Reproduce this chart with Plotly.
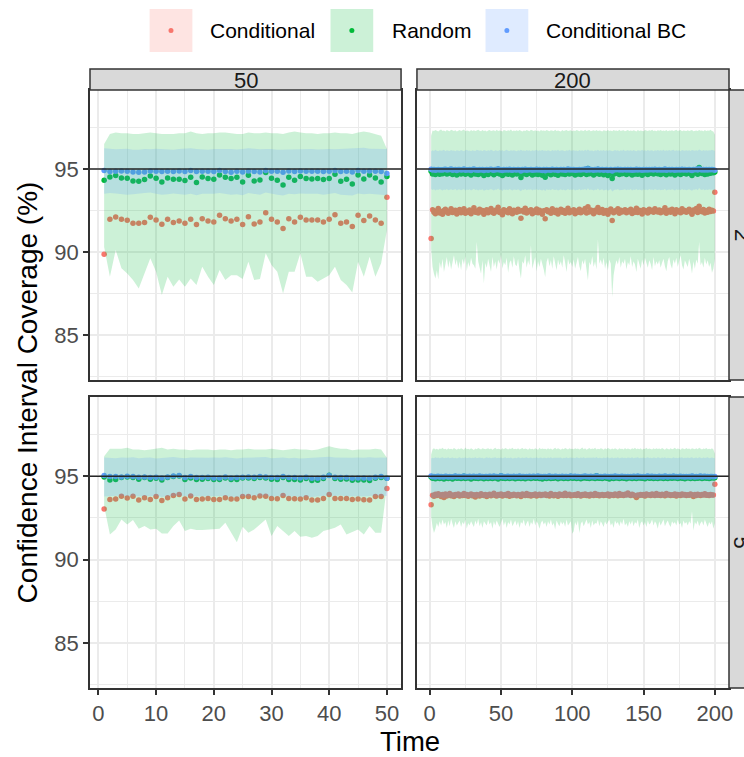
import plotly.graph_objects as go

FONT = "Liberation Sans, Arial, sans-serif"
TARGET = 95

time_50 = list(range(1, 51))
time_200 = list(range(1, 201))

col_labels = ["50", "200"]
row_labels = ["2", "5"]
series_names = ["Conditional", "Random", "Conditional BC"]

# ---------------- panel N=2, T=50 ----------------
cond_2_50 = [89.86, 91.97, 92.11, 91.97, 91.91, 91.73, 91.73, 91.77, 92.09, 91.93, 91.67, 91.97, 91.77, 91.87, 91.73, 91.97, 91.65, 92.01, 91.87, 91.81,
             92.21, 92.01, 91.87, 91.97, 91.65, 92.13, 91.69, 91.81, 92.37, 91.97, 91.81, 91.41, 92.01, 91.81, 92.09, 91.93, 91.93, 91.93, 91.81, 91.97,
             92.25, 91.73, 91.81, 91.53, 92.21, 91.89, 92.17, 91.93, 91.73, 93.29]
rand_2_50 = [94.32, 94.52, 94.60, 94.46, 94.44, 94.28, 94.26, 94.36, 94.58, 94.44, 94.22, 94.46, 94.38, 94.38, 94.30, 94.50, 94.18, 94.52, 94.42, 94.38,
             94.64, 94.50, 94.42, 94.50, 94.22, 94.62, 94.28, 94.34, 94.78, 94.44, 94.32, 94.04, 94.50, 94.32, 94.54, 94.42, 94.40, 94.42, 94.36, 94.42,
             94.68, 94.26, 94.38, 94.10, 94.64, 94.40, 94.64, 94.46, 94.22, 94.54]
bc_2_50 = [94.90, 94.84, 94.86, 94.88, 94.86, 94.82, 94.80, 94.82, 94.88, 94.86, 94.84, 94.86, 94.84, 94.88, 94.84, 94.90, 94.84, 94.86, 94.86, 94.84,
           94.90, 94.84, 94.80, 94.86, 94.82, 94.88, 94.84, 94.82, 94.90, 94.86, 94.86, 94.80, 94.88, 94.84, 94.88, 94.86, 94.86, 94.86, 94.84, 94.86,
           94.90, 94.84, 94.86, 94.82, 94.90, 94.86, 94.88, 94.86, 94.84, 94.72]
rand_hi_2_50 = [96.5, 97.1, 97.2, 97.15, 97.15, 97.1, 97.1, 97.15, 97.2, 97.15, 97.1, 97.1, 97.1, 97.15, 97.15, 97.25, 97.15, 97.1, 97.15, 97.15,
                97.2, 97.2, 97.15, 97.1, 97.1, 97.2, 97.15, 97.15, 97.2, 97.15, 97.15, 97.1, 97.2, 97.25, 97.2, 97.15, 97.15, 97.1, 97.15, 97.15,
                97.2, 97.15, 97.15, 97.1, 97.2, 97.25, 97.2, 97.1, 97.0, 96.2]
rand_lo_2_50 = [90.3, 88.51, 90.12, 89.02, 88.71, 88.31, 87.81, 88.71, 89.62, 88.82, 87.41, 88.51, 87.91, 88.35, 87.91, 88.41, 88.01, 89.12, 88.51, 88.01,
                88.92, 88.31, 88.61, 88.61, 88.37, 89.42, 88.31, 88.37, 89.92, 89.22, 88.82, 87.51, 88.82, 88.82, 89.92, 88.51, 88.51, 88.21, 88.41, 88.61,
                89.12, 88.31, 88.01, 87.57, 89.42, 88.51, 89.72, 88.51, 89.32, 91.33]
bc_hi_2_50 = [96.25, 96.2, 96.18, 96.2, 96.22, 96.16, 96.15, 96.2, 96.18, 96.22, 96.2, 96.17, 96.15, 96.2, 96.22, 96.25, 96.2, 96.18, 96.15, 96.2,
              96.22, 96.2, 96.2, 96.17, 96.2, 96.24, 96.22, 96.18, 96.2, 96.2, 96.15, 96.16, 96.2, 96.18, 96.2, 96.22, 96.2, 96.17, 96.2, 96.2,
              96.18, 96.2, 96.22, 96.2, 96.25, 96.28, 96.22, 96.2, 96.2, 96.2]
bc_lo_2_50 = [93.5, 93.55, 93.52, 93.5, 93.45, 93.48, 93.5, 93.55, 93.58, 93.5, 93.45, 93.48, 93.52, 93.5, 93.45, 93.5, 93.42, 93.5, 93.52, 93.5,
              93.55, 93.5, 93.45, 93.48, 93.42, 93.55, 93.48, 93.45, 93.58, 93.5, 93.45, 93.4, 93.5, 93.48, 93.52, 93.5, 93.48, 93.5, 93.45, 93.5,
              93.55, 93.45, 93.42, 93.4, 93.52, 93.48, 93.5, 93.5, 93.45, 93.42]

# ---------------- panel N=5, T=50 ----------------
cond_5_50 = [93.03, 93.61, 93.63, 93.80, 93.69, 93.80, 93.57, 93.71, 93.61, 93.78, 93.55, 93.71, 93.84, 93.90, 93.63, 93.82, 93.61, 93.63, 93.67, 93.61,
             93.61, 93.71, 93.63, 93.63, 93.78, 93.78, 93.71, 93.82, 93.80, 93.67, 93.65, 93.84, 93.67, 93.65, 93.63, 93.71, 93.57, 93.57, 93.67, 93.90,
             93.67, 93.67, 93.67, 93.61, 93.63, 93.59, 93.57, 93.78, 93.78, 94.26]
rand_5_50 = [94.96, 94.78, 94.80, 94.92, 94.96, 94.92, 94.82, 94.92, 94.82, 94.88, 94.78, 94.92, 94.98, 95.02, 94.80, 94.90, 94.80, 94.82, 94.86, 94.80,
             94.80, 94.90, 94.80, 94.80, 94.90, 94.90, 94.86, 94.92, 94.90, 94.82, 94.80, 94.92, 94.80, 94.80, 94.78, 94.86, 94.74, 94.76, 94.86, 95.06,
             94.86, 94.82, 94.84, 94.76, 94.78, 94.78, 94.74, 94.88, 94.92, 94.88]
bc_5_50 = [95.04, 94.98, 94.98, 94.96, 95.00, 94.98, 94.94, 94.96, 94.92, 94.94, 94.90, 94.96, 95.02, 95.04, 94.92, 94.98, 94.92, 94.92, 94.94, 94.90,
           94.90, 94.96, 94.90, 94.92, 94.94, 94.96, 94.94, 94.98, 94.96, 94.92, 94.92, 94.98, 94.92, 94.92, 94.90, 94.94, 94.88, 94.88, 94.94, 95.04,
           94.94, 94.92, 94.92, 94.88, 94.90, 94.90, 94.88, 94.94, 94.98, 94.88]
rand_hi_5_50 = [96.2, 96.65, 96.65, 96.65, 96.7, 96.6, 96.6, 96.55, 96.6, 96.65, 96.7, 96.6, 96.65, 96.6, 96.6, 96.55, 96.6, 96.6, 96.6, 96.55,
                96.6, 96.6, 96.55, 96.6, 96.6, 96.65, 96.6, 96.6, 96.6, 96.65, 96.6, 96.55, 96.6, 96.65, 96.6, 96.6, 96.55, 96.6, 96.7, 96.8,
                96.7, 96.65, 96.65, 96.55, 96.6, 96.6, 96.6, 96.65, 96.6, 96.1]
rand_lo_5_50 = [93.2, 91.51, 91.81, 92.41, 92.11, 92.37, 91.85, 92.01, 91.81, 91.85, 91.57, 91.57, 92.01, 92.35, 91.71, 91.85, 91.77, 91.77, 91.81, 91.81,
                91.85, 92.21, 91.61, 91.04, 91.97, 91.61, 91.81, 92.11, 92.41, 91.41, 92.01, 91.71, 91.41, 91.71, 91.37, 91.41, 91.31, 91.41, 91.71, 91.81,
                91.91, 92.11, 91.51, 91.65, 91.81, 91.51, 92.01, 91.61, 91.61, 94.4]
bc_hi_5_50 = [96.12, 96.1, 96.08, 96.12, 96.1, 96.14, 96.08, 96.1, 96.12, 96.06, 96.1, 96.12, 96.15, 96.1, 96.08, 96.12, 96.1, 96.08, 96.1, 96.12,
              96.1, 96.14, 96.1, 96.06, 96.1, 96.12, 96.1, 96.12, 96.15, 96.08, 96.1, 96.12, 96.08, 96.1, 96.06, 96.08, 96.1, 96.08, 96.12, 96.16,
              96.12, 96.1, 96.08, 96.1, 96.12, 96.1, 96.14, 96.1, 96.12, 96.1]
bc_lo_5_50 = [93.78, 93.8, 93.82, 93.85, 93.8, 93.84, 93.78, 93.82, 93.8, 93.83, 93.76, 93.8, 93.84, 93.86, 93.8, 93.82, 93.8, 93.78, 93.8, 93.8,
              93.82, 93.84, 93.78, 93.76, 93.82, 93.8, 93.8, 93.84, 93.85, 93.78, 93.8, 93.82, 93.78, 93.8, 93.76, 93.78, 93.76, 93.78, 93.82, 93.86,
              93.82, 93.84, 93.8, 93.78, 93.8, 93.78, 93.82, 93.84, 93.84, 93.82]

# ---------------- panel N=2, T=200 ----------------
cond_2_200 = [
    90.82, 92.55, 92.40, 92.30, 92.48, 92.62, 92.35, 92.44, 92.28, 92.50, 92.58, 92.41, 92.33, 92.47, 92.60, 92.38, 92.45, 92.52, 92.29, 92.43,
    92.56, 92.37, 92.49, 92.61, 92.34, 92.46, 92.40, 92.53, 92.31, 92.44, 92.66, 92.39, 92.47, 92.35, 92.58, 92.42, 92.50, 92.27, 92.45, 92.54,
    92.36, 92.48, 92.62, 92.40, 92.33, 92.51, 92.44, 92.70, 92.38, 92.46, 92.25, 92.55, 92.42, 92.49, 92.37, 92.60, 92.43, 92.31, 92.52, 92.45,
    92.39, 92.57, 92.46, 92.04, 92.50, 92.41, 92.63, 92.35, 92.48, 92.44, 92.55, 92.30, 92.47, 92.40, 92.59, 92.36, 92.51, 92.43, 92.28, 92.49,
    92.00, 92.54, 92.42, 92.47, 92.34, 92.61, 92.45, 92.38, 92.52, 92.29, 92.46, 92.57, 92.40, 92.50, 92.33, 92.44, 92.64, 92.37, 92.48, 92.42,
    92.55, 92.31, 92.47, 92.40, 92.58, 92.36, 92.49, 92.44, 92.62, 92.35, 92.73, 92.41, 92.53, 92.46, 92.30, 92.51, 92.43, 92.68, 92.38, 92.47,
    92.56, 92.34, 92.45, 92.50, 92.28, 92.42, 92.59, 91.90, 92.37, 92.48, 92.44, 92.60, 92.33, 92.52, 92.41, 92.46, 92.55, 92.36, 92.49, 92.43,
    92.58, 92.32, 92.47, 92.40, 92.63, 92.38, 92.51, 92.45, 92.29, 92.54, 92.42, 92.48, 92.35, 92.57, 92.44, 92.50, 92.39, 92.61, 92.46, 92.41,
    92.53, 92.37, 92.49, 92.43, 92.66, 92.34, 92.47, 92.52, 92.40, 92.58, 92.45, 92.31, 92.55, 92.42, 92.48, 92.36, 92.60, 92.44, 92.50, 92.39,
    92.46, 92.57, 92.41, 92.27, 92.53, 92.45, 92.62, 92.38, 92.75, 92.49, 92.43, 92.56, 92.35, 92.48, 92.40, 92.58, 92.44, 92.52, 92.47, 93.60]
rand_2_200 = [
    94.86, 94.70, 94.78, 94.66, 94.74, 94.82, 94.68, 94.76, 94.71, 94.80, 94.84, 94.69, 94.73, 94.79, 94.88, 94.67, 94.75, 94.81, 94.64, 94.77,
    94.83, 94.70, 94.76, 94.90, 94.68, 94.74, 94.72, 94.85, 94.63, 94.78, 94.93, 94.69, 94.75, 94.66, 94.84, 94.73, 94.80, 94.61, 94.76, 94.82,
    94.67, 94.79, 94.87, 94.72, 94.65, 94.81, 94.74, 94.95, 94.70, 94.77, 94.60, 94.83, 94.71, 94.78, 94.68, 94.86, 94.73, 94.64, 94.80, 94.75,
    94.69, 94.84, 94.76, 94.48, 94.79, 94.71, 94.88, 94.66, 94.77, 94.74, 94.82, 94.63, 94.76, 94.70, 94.85, 94.67, 94.80, 94.73, 94.62, 94.78,
    94.50, 94.83, 94.72, 94.77, 94.65, 94.87, 94.75, 94.68, 94.81, 94.62, 94.76, 94.84, 94.70, 94.79, 94.66, 94.74, 94.89, 94.69, 94.78, 94.72,
    94.82, 94.64, 94.77, 94.70, 94.85, 94.67, 94.78, 94.74, 94.90, 94.66, 95.02, 94.71, 94.81, 94.76, 94.63, 94.80, 94.73, 94.97, 94.68, 94.77,
    94.84, 94.65, 94.75, 94.79, 94.61, 94.72, 94.86, 94.42, 94.68, 94.78, 94.74, 94.87, 94.66, 94.80, 94.71, 94.76, 94.83, 94.67, 94.79, 94.73,
    94.85, 94.64, 94.77, 94.70, 94.89, 94.68, 94.80, 94.75, 94.62, 94.82, 94.72, 94.78, 94.66, 94.84, 94.74, 94.80, 94.69, 94.88, 94.76, 94.71,
    94.81, 94.67, 94.78, 94.73, 94.91, 94.65, 94.77, 94.80, 94.70, 94.85, 94.75, 94.63, 94.83, 94.72, 94.78, 94.67, 94.87, 94.74, 94.80, 94.69,
    94.76, 94.84, 94.71, 94.60, 94.81, 94.75, 94.88, 94.68, 95.08, 94.78, 94.73, 94.83, 94.66, 94.78, 94.70, 94.86, 94.74, 94.80, 94.77, 94.82]
bc_2_200 = [
    94.98, 94.94, 94.96, 94.92, 94.95, 94.97, 94.93, 94.95, 94.94, 94.96, 94.98, 94.93, 94.95, 94.96, 94.99, 94.92, 94.95, 94.97, 94.91, 94.96,
    94.97, 94.93, 94.95, 94.99, 94.92, 94.95, 94.94, 94.97, 94.91, 94.96, 95.00, 94.93, 94.95, 94.92, 94.97, 94.94, 94.96, 94.90, 94.95, 94.97,
    94.92, 94.96, 94.98, 94.94, 94.92, 94.96, 94.95, 95.01, 94.93, 94.95, 94.90, 94.97, 94.94, 94.96, 94.93, 94.98, 94.94, 94.92, 94.96, 94.95,
    94.93, 94.97, 94.95, 94.88, 94.96, 94.94, 94.98, 94.92, 94.95, 94.95, 94.97, 94.92, 94.95, 94.93, 94.98, 94.93, 94.96, 94.94, 94.91, 94.96,
    94.89, 94.97, 94.94, 94.95, 94.92, 94.98, 94.95, 94.93, 94.96, 94.91, 94.95, 94.97, 94.93, 94.96, 94.92, 94.94, 94.99, 94.93, 94.96, 94.94,
    94.97, 94.92, 94.95, 94.94, 94.97, 94.93, 94.96, 94.95, 94.99, 94.92, 95.02, 94.94, 94.96, 94.95, 94.92, 94.96, 94.94, 95.00, 94.93, 94.95,
    94.97, 94.92, 94.95, 94.96, 94.91, 94.94, 94.97, 94.87, 94.93, 94.96, 94.95, 94.98, 94.93, 94.96, 94.94, 94.95, 94.97, 94.93, 94.96, 94.94,
    94.97, 94.92, 94.95, 94.94, 94.98, 94.93, 94.96, 94.95, 94.92, 94.97, 94.94, 94.96, 94.93, 94.97, 94.95, 94.96, 94.93, 94.98, 94.95, 94.94,
    94.96, 94.93, 94.95, 94.94, 94.99, 94.92, 94.95, 94.96, 94.94, 94.97, 94.95, 94.92, 94.97, 94.94, 94.96, 94.93, 94.98, 94.94, 94.96, 94.93,
    94.95, 94.97, 94.94, 94.91, 94.96, 94.95, 94.98, 94.93, 95.03, 94.96, 94.94, 94.97, 94.93, 94.96, 94.94, 94.97, 94.95, 94.96, 94.95, 94.92]
rand_hi_2_200 = [
    97.00, 97.32, 97.28, 97.35, 97.30, 97.25, 97.33, 97.38, 97.29, 97.31, 97.26, 97.34, 97.30, 97.27, 97.36, 97.31, 97.28, 97.33, 97.25, 97.30,
    97.34, 97.29, 97.31, 97.37, 97.27, 97.32, 97.30, 97.26, 97.35, 97.29, 97.33, 97.28, 97.31, 97.36, 97.30, 97.27, 97.34, 97.29, 97.32, 97.26,
    97.31, 97.35, 97.28, 97.30, 97.33, 97.27, 97.36, 97.29, 97.32, 97.30, 97.25, 97.34, 97.31, 97.28, 97.33, 97.30, 97.37, 97.27, 97.31, 97.29,
    97.33, 97.28, 97.35, 97.30, 97.26, 97.32, 97.29, 97.34, 97.31, 97.27, 97.36, 97.30, 97.28, 97.33, 97.29, 97.31, 97.26, 97.35, 97.30, 97.32,
    97.28, 97.34, 97.30, 97.27, 97.33, 97.31, 97.29, 97.36, 97.28, 97.32, 97.30, 97.25, 97.34, 97.29, 97.31, 97.35, 97.28, 97.30, 97.33, 97.27,
    97.32, 97.29, 97.35, 97.31, 97.27, 97.33, 97.30, 97.28, 97.36, 97.29, 97.31, 97.34, 97.27, 97.30, 97.33, 97.29, 97.35, 97.28, 97.32, 97.30,
    97.26, 97.33, 97.30, 97.28, 97.35, 97.29, 97.31, 97.27, 97.34, 97.30, 97.32, 97.28, 97.36, 97.29, 97.31, 97.33, 97.27, 97.30, 97.34, 97.29,
    97.31, 97.28, 97.33, 97.30, 97.26, 97.35, 97.29, 97.32, 97.30, 97.27, 97.34, 97.31, 97.28, 97.33, 97.30, 97.36, 97.29, 97.31, 97.27, 97.33,
    97.30, 97.34, 97.28, 97.31, 97.29, 97.35, 97.27, 97.32, 97.30, 97.33, 97.28, 97.31, 97.36, 97.29, 97.30, 97.34, 97.27, 97.32, 97.30, 97.28,
    97.33, 97.29, 97.31, 97.35, 97.27, 97.30, 97.32, 97.28, 97.34, 97.30, 97.31, 97.27, 97.35, 97.29, 97.32, 97.30, 97.36, 97.28, 97.25, 97.05]
rand_lo_2_200 = [
    90.20, 89.10, 88.70, 88.40, 88.90, 88.35, 89.40, 89.00, 89.60, 88.80, 89.30, 89.70, 89.05, 89.50, 88.95, 89.35, 89.80, 89.20, 89.55, 89.00,
    89.45, 88.90, 89.60, 89.25, 89.75, 88.85, 89.40, 89.10, 89.65, 89.30, 89.20, 89.00, 90.60, 89.45, 89.15, 88.70, 89.50, 88.10, 89.35, 89.05,
    89.60, 89.25, 88.80, 89.70, 89.10, 89.45, 88.95, 89.55, 89.30, 89.85, 89.00, 89.40, 89.20, 89.65, 88.75, 89.35, 89.50, 89.05, 89.75, 89.25,
    89.15, 89.60, 88.90, 88.40, 89.45, 89.30, 89.80, 89.05, 89.50, 89.20, 90.40, 89.00, 89.35, 89.70, 88.85, 89.45, 89.10, 89.60, 89.25, 88.95,
    88.50, 89.40, 89.65, 89.15, 89.50, 89.00, 89.75, 89.30, 88.90, 89.55, 89.20, 89.45, 89.05, 89.80, 89.35, 88.80, 89.60, 89.25, 89.40, 89.10,
    89.55, 89.00, 89.35, 89.70, 89.15, 88.85, 89.50, 89.25, 89.60, 89.05, 88.30, 89.40, 89.20, 89.75, 89.10, 89.45, 88.95, 90.75, 89.30, 89.55,
    89.20, 89.65, 89.00, 89.40, 88.90, 89.55, 89.30, 87.30, 88.60, 89.15, 89.50, 89.25, 89.70, 89.05, 89.45, 89.30, 89.60, 88.95, 89.40, 89.20,
    89.75, 89.10, 89.45, 89.25, 88.80, 89.60, 89.35, 89.00, 89.55, 89.20, 89.65, 89.40, 89.05, 89.50, 89.30, 88.90, 89.70, 89.15, 89.45, 89.25,
    89.50, 89.05, 89.35, 89.60, 89.15, 88.85, 89.45, 89.70, 89.25, 89.00, 89.55, 89.30, 89.65, 89.10, 89.40, 89.80, 89.20, 88.95, 89.50, 89.35,
    89.10, 89.60, 89.25, 88.70, 89.45, 89.00, 89.55, 89.30, 90.60, 89.20, 89.40, 89.05, 89.65, 89.25, 89.50, 89.10, 89.35, 88.75, 89.00, 89.60]
bc_hi_2_200 = [
    96.05, 96.12, 96.08, 96.15, 96.10, 96.06, 96.13, 96.09, 96.11, 96.16, 96.07, 96.12, 96.10, 96.08, 96.14, 96.09, 96.11, 96.06, 96.13, 96.10,
    96.08, 96.14, 96.10, 96.07, 96.12, 96.16, 96.09, 96.11, 96.06, 96.13, 96.10, 96.08, 96.15, 96.11, 96.09, 96.12, 96.07, 96.14, 96.10, 96.08,
    96.12, 96.09, 96.15, 96.10, 96.07, 96.13, 96.11, 96.08, 96.14, 96.09, 96.12, 96.06, 96.11, 96.15, 96.10, 96.08, 96.13, 96.09, 96.12, 96.10,
    96.07, 96.13, 96.10, 96.16, 96.09, 96.11, 96.08, 96.14, 96.10, 96.12, 96.06, 96.13, 96.09, 96.11, 96.15, 96.08, 96.12, 96.10, 96.14, 96.09,
    96.11, 96.08, 96.13, 96.10, 96.06, 96.14, 96.09, 96.12, 96.10, 96.15, 96.08, 96.11, 96.13, 96.09, 96.07, 96.12, 96.10, 96.16, 96.09, 96.11,
    96.13, 96.09, 96.11, 96.07, 96.14, 96.10, 96.12, 96.08, 96.15, 96.10, 96.17, 96.09, 96.12, 96.11, 96.07, 96.13, 96.10, 96.16, 96.08, 96.12,
    96.10, 96.14, 96.08, 96.12, 96.09, 96.13, 96.11, 96.06, 96.10, 96.14, 96.09, 96.12, 96.07, 96.13, 96.10, 96.15, 96.08, 96.11, 96.13, 96.09,
    96.12, 96.08, 96.14, 96.10, 96.07, 96.13, 96.11, 96.09, 96.15, 96.10, 96.12, 96.08, 96.14, 96.09, 96.11, 96.13, 96.07, 96.12, 96.10, 96.14,
    96.09, 96.13, 96.10, 96.15, 96.08, 96.12, 96.10, 96.14, 96.09, 96.11, 96.16, 96.08, 96.13, 96.10, 96.12, 96.07, 96.14, 96.11, 96.09, 96.13,
    96.10, 96.12, 96.08, 96.14, 96.11, 96.09, 96.13, 96.10, 96.17, 96.11, 96.08, 96.14, 96.10, 96.12, 96.09, 96.13, 96.11, 96.15, 96.10, 96.08]
bc_lo_2_200 = [
    93.80, 93.74, 93.78, 93.70, 93.76, 93.73, 93.79, 93.75, 93.71, 93.77, 93.74, 93.80, 93.72, 93.76, 93.78, 93.73, 93.75, 93.79, 93.70, 93.76,
    93.77, 93.72, 93.75, 93.80, 93.71, 93.76, 93.74, 93.78, 93.70, 93.75, 93.81, 93.73, 93.76, 93.71, 93.77, 93.74, 93.78, 93.69, 93.75, 93.77,
    93.72, 93.76, 93.79, 93.74, 93.71, 93.77, 93.75, 93.82, 93.73, 93.76, 93.68, 93.78, 93.74, 93.76, 93.72, 93.79, 93.75, 93.71, 93.77, 93.74,
    93.73, 93.78, 93.75, 93.66, 93.77, 93.74, 93.80, 93.72, 93.76, 93.75, 93.78, 93.71, 93.76, 93.73, 93.79, 93.72, 93.77, 93.74, 93.70, 93.76,
    93.67, 93.78, 93.74, 93.76, 93.72, 93.79, 93.75, 93.73, 93.77, 93.70, 93.75, 93.78, 93.72, 93.77, 93.71, 93.74, 93.80, 93.73, 93.76, 93.74,
    93.78, 93.71, 93.75, 93.74, 93.79, 93.72, 93.77, 93.75, 93.80, 93.72, 93.84, 93.74, 93.77, 93.75, 93.71, 93.77, 93.74, 93.82, 93.72, 93.76,
    93.78, 93.71, 93.75, 93.77, 93.69, 93.74, 93.79, 93.64, 93.72, 93.77, 93.75, 93.79, 93.72, 93.77, 93.74, 93.75, 93.78, 93.72, 93.77, 93.74,
    93.79, 93.71, 93.76, 93.74, 93.80, 93.72, 93.77, 93.75, 93.70, 93.78, 93.74, 93.77, 93.72, 93.79, 93.75, 93.77, 93.72, 93.80, 93.75, 93.73,
    93.77, 93.72, 93.75, 93.74, 93.81, 93.71, 93.75, 93.77, 93.73, 93.78, 93.75, 93.70, 93.78, 93.74, 93.77, 93.72, 93.80, 93.74, 93.77, 93.72,
    93.75, 93.78, 93.74, 93.69, 93.77, 93.75, 93.80, 93.72, 93.85, 93.77, 93.74, 93.78, 93.72, 93.77, 93.74, 93.78, 93.75, 93.77, 93.75, 93.71]

# ---------------- panel N=5, T=200 ----------------
cond_5_200 = [
    93.29, 93.86, 93.80, 93.92, 93.84, 93.95, 93.88, 93.78, 93.90, 93.72, 93.93, 93.82, 93.89, 93.96, 93.83, 93.87, 93.79, 93.91, 93.86, 93.94,
    93.81, 93.88, 93.84, 93.97, 93.85, 93.90, 93.80, 93.87, 93.93, 93.83, 93.89, 93.76, 93.91, 93.86, 93.82, 93.95, 93.88, 93.84, 93.90, 93.79,
    93.87, 93.92, 93.83, 93.89, 93.98, 93.85, 93.81, 93.90, 93.86, 93.94, 93.82, 93.88, 93.91, 93.84, 93.96, 93.80, 93.89, 93.85, 93.92, 93.87,
    93.83, 93.90, 93.86, 93.79, 93.93, 93.88, 93.84, 93.97, 93.85, 93.91, 93.82, 93.89, 93.86, 93.94, 93.81, 93.88, 93.92, 93.84, 93.90, 93.87,
    93.93, 93.85, 93.89, 93.82, 93.96, 93.87, 93.83, 93.91, 93.88, 93.80, 93.94, 93.86, 93.90, 93.84, 93.98, 93.85, 93.89, 93.92, 93.83, 93.88,
    93.86, 93.91, 93.84, 93.95, 93.87, 93.82, 93.90, 93.86, 93.93, 93.85, 93.89, 93.81, 93.92, 93.88, 93.84, 93.97, 93.86, 93.90, 93.83, 93.88,
    93.91, 93.84, 93.89, 93.86, 93.94, 93.82, 93.90, 93.87, 93.85, 93.93, 93.88, 93.83, 93.96, 93.86, 93.90, 93.84, 93.92, 93.87, 94.00, 93.89,
    93.85, 93.92, 93.87, 93.83, 93.73, 93.88, 93.84, 93.91, 93.86, 93.90, 93.82, 93.94, 93.87, 93.89, 93.85, 93.93, 93.88, 93.84, 93.97, 93.86,
    93.90, 93.85, 93.92, 93.87, 93.83, 93.96, 93.88, 93.91, 93.84, 93.89, 93.86, 93.94, 93.82, 93.90, 93.87, 93.85, 93.93, 93.88, 93.91, 93.84,
    93.89, 93.86, 93.93, 93.87, 93.78, 93.90, 93.85, 93.92, 93.88, 93.84, 93.91, 93.87, 93.95, 93.86, 93.89, 93.85, 93.90, 93.87, 93.88, 94.52]
rand_5_200 = [
    94.95, 94.88, 94.92, 94.85, 94.90, 94.97, 94.87, 94.93, 94.89, 94.84, 94.96, 94.90, 94.86, 94.94, 94.91, 94.83, 94.92, 94.98, 94.88, 94.90,
    94.93, 94.86, 94.91, 95.00, 94.87, 94.92, 94.89, 94.95, 94.84, 94.90, 94.94, 94.88, 94.91, 94.86, 94.96, 94.89, 94.93, 94.85, 94.90, 94.92,
    94.87, 94.94, 94.90, 94.86, 94.97, 94.89, 94.92, 94.84, 94.91, 95.02, 94.88, 94.93, 94.86, 94.90, 94.95, 94.87, 94.92, 94.89, 94.94, 94.85,
    94.91, 94.88, 94.96, 94.87, 94.90, 94.93, 94.85, 94.92, 94.89, 94.95, 94.86, 94.91, 94.94, 94.88, 94.90, 94.97, 94.87, 94.92, 94.84, 94.90,
    94.93, 94.87, 94.91, 94.96, 94.86, 94.90, 94.88, 94.94, 94.91, 94.85, 94.92, 94.89, 94.95, 94.87, 94.90, 94.93, 94.86, 94.91, 94.98, 94.88,
    94.90, 94.94, 94.87, 94.92, 94.89, 94.85, 94.93, 94.90, 94.96, 94.88, 94.91, 94.86, 94.94, 94.89, 94.92, 94.87, 95.03, 94.90, 94.88, 94.93,
    94.86, 94.91, 94.95, 94.88, 94.92, 94.84, 94.90, 94.93, 94.87, 94.96, 94.89, 94.92, 94.86, 94.90, 94.94, 94.88, 94.91, 94.85, 94.93, 94.89,
    94.92, 94.87, 94.94, 94.90, 94.86, 94.95, 94.89, 94.91, 94.88, 94.93, 94.85, 94.92, 94.97, 94.88, 94.90, 94.94, 94.87, 94.91, 94.89, 94.86,
    94.94, 94.89, 94.92, 94.87, 94.95, 94.90, 94.86, 94.93, 94.91, 94.88, 94.96, 94.89, 94.92, 94.86, 94.90, 94.94, 94.88, 94.91, 94.85, 94.93,
    94.89, 94.92, 94.87, 94.95, 94.90, 94.86, 94.93, 94.88, 94.91, 94.97, 94.87, 94.90, 94.94, 94.88, 94.92, 94.86, 94.90, 94.93, 94.89, 94.91]
bc_5_200 = [
    95.01, 94.97, 94.99, 94.96, 94.98, 95.00, 94.96, 94.99, 94.97, 94.95, 95.00, 94.98, 94.96, 94.99, 94.97, 94.95, 94.98, 95.01, 94.97, 94.98,
    94.99, 94.96, 94.98, 95.02, 94.96, 94.99, 94.97, 95.00, 94.95, 94.98, 95.00, 94.97, 94.98, 94.96, 95.01, 94.97, 94.99, 94.95, 94.98, 94.99,
    94.96, 95.00, 94.98, 94.96, 95.01, 94.97, 94.99, 94.95, 94.98, 95.03, 94.97, 94.99, 94.96, 94.98, 95.00, 94.96, 94.99, 94.97, 95.00, 94.95,
    94.98, 94.97, 95.01, 94.96, 94.98, 94.99, 94.95, 94.99, 94.97, 95.00, 94.96, 94.98, 95.00, 94.97, 94.98, 95.01, 94.96, 94.99, 94.95, 94.98,
    94.99, 94.96, 94.98, 95.01, 94.96, 94.98, 94.97, 95.00, 94.98, 94.95, 94.99, 94.97, 95.00, 94.96, 94.98, 94.99, 94.96, 94.98, 95.02, 94.97,
    94.98, 95.00, 94.96, 94.99, 94.97, 94.95, 94.99, 94.98, 95.01, 94.97, 94.98, 94.96, 95.00, 94.97, 94.99, 94.96, 95.03, 94.98, 94.97, 94.99,
    94.96, 94.98, 95.00, 94.97, 94.99, 94.95, 94.98, 94.99, 94.96, 95.01, 94.97, 94.99, 94.96, 94.98, 95.00, 94.97, 94.98, 94.95, 94.99, 94.97,
    94.99, 94.96, 95.00, 94.98, 94.96, 95.01, 94.97, 94.98, 94.97, 94.99, 94.95, 94.99, 95.02, 94.97, 94.98, 95.00, 94.96, 94.98, 94.97, 94.96,
    95.00, 94.97, 94.99, 94.96, 95.01, 94.98, 94.96, 94.99, 94.98, 94.97, 95.01, 94.97, 94.99, 94.96, 94.98, 95.00, 94.97, 94.98, 94.95, 94.99,
    94.97, 94.99, 94.96, 95.01, 94.98, 94.96, 94.99, 94.97, 94.98, 95.02, 94.96, 94.98, 95.00, 94.97, 94.99, 94.96, 94.98, 94.99, 94.97, 94.98]
rand_hi_5_200 = [
    96.30, 96.62, 96.68, 96.60, 96.65, 96.58, 96.66, 96.63, 96.70, 96.61, 96.64, 96.59, 96.67, 96.62, 96.65, 96.60, 96.69, 96.63, 96.58, 96.66,
    96.61, 96.67, 96.64, 96.59, 96.72, 96.62, 96.65, 96.60, 96.68, 96.63, 96.57, 96.66, 96.62, 96.69, 96.64, 96.60, 96.67, 96.63, 96.61, 96.65,
    96.68, 96.62, 96.66, 96.59, 96.64, 96.71, 96.61, 96.65, 96.63, 96.58, 96.67, 96.62, 96.69, 96.64, 96.60, 96.66, 96.63, 96.70, 96.61, 96.65,
    96.62, 96.67, 96.60, 96.64, 96.69, 96.61, 96.66, 96.63, 96.58, 96.68, 96.62, 96.65, 96.60, 96.67, 96.64, 96.59, 96.70, 96.62, 96.66, 96.63,
    96.65, 96.60, 96.68, 96.62, 96.66, 96.59, 96.64, 96.71, 96.61, 96.67, 96.63, 96.58, 96.66, 96.62, 96.69, 96.64, 96.60, 96.67, 96.63, 96.65,
    96.61, 96.68, 96.63, 96.66, 96.60, 96.65, 96.72, 96.62, 96.67, 96.59, 96.64, 96.69, 96.61, 96.66, 96.63, 96.70, 96.60, 96.65, 96.62, 96.68,
    96.64, 96.59, 96.67, 96.62, 96.69, 96.63, 96.60, 96.66, 96.61, 96.68, 96.64, 96.58, 96.67, 96.63, 96.65, 96.60, 96.69, 96.62, 96.66, 96.64,
    96.60, 96.67, 96.63, 96.70, 96.61, 96.66, 96.62, 96.68, 96.59, 96.65, 96.63, 96.71, 96.61, 96.66, 96.64, 96.60, 96.68, 96.62, 96.67, 96.63,
    96.66, 96.61, 96.69, 96.63, 96.58, 96.67, 96.64, 96.60, 96.68, 96.62, 96.65, 96.70, 96.61, 96.66, 96.63, 96.59, 96.67, 96.64, 96.61, 96.69,
    96.63, 96.66, 96.60, 96.68, 96.64, 96.61, 96.67, 96.62, 96.70, 96.65, 96.60, 96.66, 96.63, 96.69, 96.61, 96.65, 96.62, 96.67, 96.60, 96.35]
rand_lo_5_200 = [
    92.60, 91.95, 91.60, 91.85, 92.20, 91.95, 92.30, 92.05, 92.40, 92.10, 92.25, 91.90, 92.35, 92.00, 92.45, 92.15, 91.90, 92.30, 92.05, 92.20,
    92.35, 91.95, 92.25, 92.10, 92.40, 91.85, 92.20, 92.05, 92.30, 92.15, 91.95, 92.35, 92.10, 92.45, 92.00, 92.25, 91.90, 92.30, 92.15, 92.05,
    92.40, 92.10, 92.25, 91.85, 92.30, 92.05, 92.35, 92.15, 91.95, 92.20, 92.45, 92.05, 92.30, 91.90, 92.25, 92.10, 92.40, 92.00, 92.20, 92.35,
    92.05, 92.30, 91.90, 92.25, 92.15, 92.40, 92.00, 92.20, 92.35, 91.95, 92.25, 92.10, 92.45, 92.05, 92.30, 92.15, 91.85, 92.20, 92.35, 92.10,
    92.25, 91.95, 92.30, 92.10, 92.40, 92.05, 92.20, 91.80, 92.35, 92.15, 92.00, 92.30, 92.10, 92.25, 91.95, 92.40, 92.05, 92.20, 92.30, 91.55,
    91.70, 92.25, 92.05, 92.35, 91.60, 92.15, 92.30, 92.00, 92.20, 92.40, 92.10, 92.25, 91.90, 92.35, 92.05, 92.20, 92.15, 92.40, 92.00, 92.30,
    92.15, 91.95, 92.30, 92.10, 92.25, 92.40, 92.05, 92.20, 91.90, 92.35, 92.15, 92.25, 92.00, 92.30, 92.10, 92.45, 92.05, 92.20, 91.95, 92.30,
    92.10, 92.35, 92.00, 92.25, 92.15, 92.40, 91.90, 92.20, 92.30, 92.05, 92.25, 91.95, 92.35, 92.10, 92.20, 92.40, 92.05, 92.30, 92.15, 91.85,
    92.30, 92.05, 92.25, 92.40, 92.00, 92.20, 92.35, 92.10, 91.95, 92.30, 92.15, 92.25, 92.05, 92.40, 92.10, 92.20, 91.90, 92.35, 92.15, 92.25,
    92.05, 92.30, 92.15, 92.90, 91.75, 92.25, 92.10, 92.35, 92.00, 92.20, 92.30, 92.05, 92.40, 92.15, 91.95, 92.25, 92.10, 92.30, 91.85, 92.20]
bc_hi_5_200 = [
    96.06, 96.11, 96.08, 96.13, 96.09, 96.12, 96.07, 96.10, 96.14, 96.08, 96.11, 96.09, 96.13, 96.07, 96.10, 96.12, 96.08, 96.11, 96.06, 96.10,
    96.13, 96.08, 96.11, 96.09, 96.14, 96.07, 96.10, 96.12, 96.08, 96.11, 96.09, 96.13, 96.07, 96.10, 96.12, 96.09, 96.11, 96.06, 96.10, 96.13,
    96.09, 96.12, 96.07, 96.11, 96.10, 96.14, 96.08, 96.11, 96.09, 96.12, 96.07, 96.10, 96.13, 96.08, 96.11, 96.09, 96.12, 96.06, 96.10, 96.11,
    96.08, 96.13, 96.10, 96.07, 96.12, 96.09, 96.11, 96.14, 96.08, 96.10, 96.12, 96.07, 96.11, 96.09, 96.13, 96.08, 96.10, 96.12, 96.07, 96.11,
    96.10, 96.08, 96.12, 96.09, 96.14, 96.07, 96.11, 96.10, 96.13, 96.08, 96.10, 96.12, 96.06, 96.11, 96.09, 96.13, 96.08, 96.10, 96.12, 96.09,
    96.11, 96.07, 96.13, 96.10, 96.08, 96.12, 96.09, 96.14, 96.07, 96.11, 96.10, 96.13, 96.08, 96.10, 96.12, 96.09, 96.15, 96.08, 96.11, 96.10,
    96.07, 96.12, 96.09, 96.11, 96.13, 96.08, 96.10, 96.12, 96.07, 96.11, 96.09, 96.13, 96.08, 96.10, 96.12, 96.09, 96.11, 96.07, 96.12, 96.10,
    96.09, 96.13, 96.08, 96.11, 96.10, 96.14, 96.07, 96.11, 96.09, 96.12, 96.08, 96.10, 96.13, 96.09, 96.11, 96.07, 96.12, 96.10, 96.08, 96.13,
    96.10, 96.08, 96.12, 96.09, 96.13, 96.07, 96.11, 96.10, 96.12, 96.08, 96.14, 96.09, 96.11, 96.07, 96.12, 96.10, 96.13, 96.08, 96.11, 96.09,
    96.12, 96.09, 96.11, 96.14, 96.08, 96.10, 96.12, 96.07, 96.13, 96.10, 96.08, 96.12, 96.09, 96.11, 96.13, 96.08, 96.10, 96.12, 96.09, 96.07]
bc_lo_5_200 = [
    93.74, 93.70, 93.73, 93.68, 93.72, 93.75, 93.69, 93.73, 93.71, 93.67, 93.74, 93.72, 93.69, 93.73, 93.71, 93.68, 93.72, 93.75, 93.70, 93.72,
    93.73, 93.69, 93.72, 93.76, 93.69, 93.73, 93.71, 93.74, 93.67, 93.72, 93.74, 93.70, 93.72, 93.69, 93.75, 93.71, 93.73, 93.68, 93.72, 93.73,
    93.70, 93.74, 93.72, 93.69, 93.75, 93.71, 93.73, 93.67, 93.72, 93.76, 93.70, 93.73, 93.69, 93.72, 93.74, 93.70, 93.73, 93.71, 93.74, 93.68,
    93.72, 93.70, 93.75, 93.69, 93.72, 93.73, 93.68, 93.73, 93.71, 93.74, 93.69, 93.72, 93.74, 93.70, 93.72, 93.75, 93.69, 93.73, 93.67, 93.72,
    93.73, 93.69, 93.72, 93.75, 93.69, 93.72, 93.71, 93.74, 93.72, 93.68, 93.73, 93.70, 93.74, 93.69, 93.72, 93.73, 93.69, 93.72, 93.76, 93.70,
    93.72, 93.74, 93.69, 93.73, 93.71, 93.67, 93.73, 93.72, 93.75, 93.70, 93.72, 93.69, 93.74, 93.70, 93.73, 93.69, 93.77, 93.72, 93.70, 93.73,
    93.69, 93.72, 93.74, 93.70, 93.73, 93.67, 93.72, 93.73, 93.69, 93.75, 93.70, 93.73, 93.69, 93.72, 93.74, 93.70, 93.72, 93.68, 93.73, 93.70,
    93.73, 93.69, 93.74, 93.72, 93.69, 93.75, 93.70, 93.72, 93.71, 93.73, 93.68, 93.73, 93.76, 93.70, 93.72, 93.74, 93.69, 93.72, 93.70, 93.69,
    93.74, 93.70, 93.73, 93.69, 93.75, 93.72, 93.69, 93.73, 93.72, 93.70, 93.75, 93.70, 93.73, 93.69, 93.72, 93.74, 93.70, 93.72, 93.68, 93.73,
    93.70, 93.73, 93.69, 93.75, 93.72, 93.69, 93.73, 93.70, 93.72, 93.76, 93.69, 93.72, 93.74, 93.70, 93.73, 93.69, 93.72, 93.73, 93.70, 93.71]

# ---------------- styling ----------------
COL_COND = "#F8766D"
COL_RAND = "#00BA38"
COL_BC = "#619CFF"
FILL_COND = "rgba(248,118,109,0.2)"
FILL_RAND = "rgba(0,186,56,0.2)"
FILL_BC = "rgba(97,156,255,0.2)"

W, H = 744, 757
ML, MR, MT, MB = 90, 11, 90, 69
PW, PH = W - ML - MR, H - MT - MB


def px(x):
    """figure pixel x -> paper coordinate"""
    return (x - ML) / PW


def py(y):
    """figure pixel y (from top) -> paper coordinate"""
    return (H - MB - y) / PH


panels = [
    ("x", "y", time_50, cond_2_50, rand_2_50, bc_2_50, rand_lo_2_50, rand_hi_2_50, bc_lo_2_50, bc_hi_2_50),
    ("x2", "y2", time_200, cond_2_200, rand_2_200, bc_2_200, rand_lo_2_200, rand_hi_2_200, bc_lo_2_200, bc_hi_2_200),
    ("x3", "y3", time_50, cond_5_50, rand_5_50, bc_5_50, rand_lo_5_50, rand_hi_5_50, bc_lo_5_50, bc_hi_5_50),
    ("x4", "y4", time_200, cond_5_200, rand_5_200, bc_5_200, rand_lo_5_200, rand_hi_5_200, bc_lo_5_200, bc_hi_5_200),
]

fig = go.Figure()
for xa, ya, t, c, r, b, rlo, rhi, blo, bhi in panels:
    for vals, col in ((c, COL_COND), (r, COL_RAND), (b, COL_BC)):
        fig.add_trace(go.Scatter(x=t, y=vals, mode="markers", xaxis=xa, yaxis=ya,
                                 marker=dict(color=col, size=5.5, line=dict(width=0)),
                                 showlegend=False, hoverinfo="skip"))
    for lo, hi, fc in ((rlo, rhi, FILL_RAND), (blo, bhi, FILL_BC)):
        fig.add_trace(go.Scatter(x=t + t[::-1], y=hi + lo[::-1], mode="lines", fill="toself",
                                 fillcolor=fc, line=dict(width=0), xaxis=xa, yaxis=ya,
                                 showlegend=False, hoverinfo="skip"))

YR = [82.3, 99.75]
grid = dict(showgrid=True, gridcolor="#EBEBEB", gridwidth=2, zeroline=False,
            showline=True, mirror=True, linecolor="#333333", linewidth=1.5,
            tickfont=dict(family=FONT, size=22, color="#4D4D4D"))

xd_l = [0, px(403)]
xd_r = [px(419), 1]
yd_t = [py(380), 1]
yd_b = [0, py(397)]

x50 = dict(range=[-1.45, 52.45], tickvals=[0, 10, 20, 30, 40, 50],
           minor=dict(tickvals=[5, 15, 25, 35, 45], showgrid=True, gridcolor="#EBEBEB", gridwidth=1))
x200 = dict(range=[-8.95, 209.95], tickvals=[0, 50, 100, 150, 200],
            minor=dict(tickvals=[25, 75, 125, 175], showgrid=True, gridcolor="#EBEBEB", gridwidth=1))
yset = dict(range=YR, tickvals=[85, 90, 95],
            minor=dict(tickvals=[82.5, 87.5, 92.5, 97.5], showgrid=True, gridcolor="#EBEBEB", gridwidth=1))
tick_on = dict(ticks="outside", ticklen=5, tickwidth=1.5, tickcolor="#333333", showticklabels=True)
tick_off = dict(ticks="", showticklabels=False)

fig.update_layout(
    xaxis=dict(domain=xd_l, anchor="y", **x50, **grid, **tick_off),
    xaxis2=dict(domain=xd_r, anchor="y2", **x200, **grid, **tick_off),
    xaxis3=dict(domain=xd_l, anchor="y3", **x50, **grid, **tick_on),
    xaxis4=dict(domain=xd_r, anchor="y4", **x200, **grid, **tick_on),
    yaxis=dict(domain=yd_t, anchor="x", **yset, **grid, **tick_on),
    yaxis2=dict(domain=yd_t, anchor="x2", **yset, **grid, **tick_off),
    yaxis3=dict(domain=yd_b, anchor="x3", **yset, **grid, **tick_on),
    yaxis4=dict(domain=yd_b, anchor="x4", **yset, **grid, **tick_off),
)

shapes = []
annotations = []
# target reference line
for xa, ya in (("x", "y"), ("x2", "y2"), ("x3", "y3"), ("x4", "y4")):
    shapes.append(dict(type="line", xref=f"{xa} domain", yref=ya, x0=0, x1=1, y0=TARGET, y1=TARGET,
                       line=dict(color="#262626", width=1.6), layer="above"))

# top strips
for (x0, x1), lab in zip(((90, 403), (419, 733)), col_labels):
    shapes.append(dict(type="rect", xref="paper", yref="paper", x0=px(x0), x1=px(x1), y0=py(90), y1=py(69),
                       fillcolor="#D9D9D9", line=dict(color="#333333", width=1.5), layer="above"))
    annotations.append(dict(text=lab, xref="paper", yref="paper", x=px((x0 + x1) / 2), y=py(80),
                            showarrow=False, xanchor="center", yanchor="middle",
                            font=dict(family=FONT, size=22, color="#1A1A1A")))
# right strips (extend past the right edge, as in the reference)
for (y0, y1), lab in zip(((90, 380), (397, 688)), row_labels):
    shapes.append(dict(type="rect", xref="paper", yref="paper", x0=px(733), x1=px(756), y0=py(y1), y1=py(y0),
                       fillcolor="#D9D9D9", line=dict(color="#333333", width=1.5), layer="above"))
    annotations.append(dict(text=lab, xref="paper", yref="paper", x=px(746), y=py((y0 + y1) / 2),
                            showarrow=False, xanchor="center", yanchor="middle", textangle=90,
                            font=dict(family=FONT, size=22, color="#1A1A1A")))

# legend (drawn manually: filled key with point)
legend_items = [(150, 209, FILL_COND, COL_COND), (332, 392, FILL_RAND, COL_RAND), (488, 547, FILL_BC, COL_BC)]
for (kx, tx, fc, pc), name in zip(legend_items, series_names):
    shapes.append(dict(type="rect", xref="paper", yref="paper", x0=px(kx), x1=px(kx + 43), y0=py(52), y1=py(9),
                       fillcolor=fc, line=dict(width=0)))
    shapes.append(dict(type="circle", xref="paper", yref="paper", xsizemode="pixel", ysizemode="pixel",
                       xanchor=px(kx + 21.5), yanchor=py(30.5), x0=-2.5, x1=2.5, y0=-2.5, y1=2.5,
                       fillcolor=pc, line=dict(width=0)))
    annotations.append(dict(text=name, xref="paper", yref="paper", x=px(tx), y=py(31), showarrow=False,
                            xanchor="left", yanchor="middle", font=dict(family=FONT, size=21, color="#000000")))

# axis titles
annotations.append(dict(text="Time", xref="paper", yref="paper", x=px(412), y=py(741), showarrow=False,
                        xanchor="center", yanchor="middle", font=dict(family=FONT, size=27.5, color="#000000")))
annotations.append(dict(text="Confidence Interval Coverage (%)", xref="paper", yref="paper", x=px(27), y=py(392),
                        showarrow=False, xanchor="center", yanchor="middle", textangle=-90,
                        font=dict(family=FONT, size=28, color="#000000")))

fig.update_layout(
    width=W, height=H, margin=dict(l=ML, r=MR, t=MT, b=MB, pad=0),
    paper_bgcolor="white", plot_bgcolor="white", showlegend=False,
    shapes=shapes, annotations=annotations, font=dict(family=FONT),
)

# remove the default page margin so the figure sits at the window's top-left corner
fig.write_html("out.html", config={"displayModeBar": False},
               post_script="document.body.style.margin='0';document.body.style.overflow='hidden';")
